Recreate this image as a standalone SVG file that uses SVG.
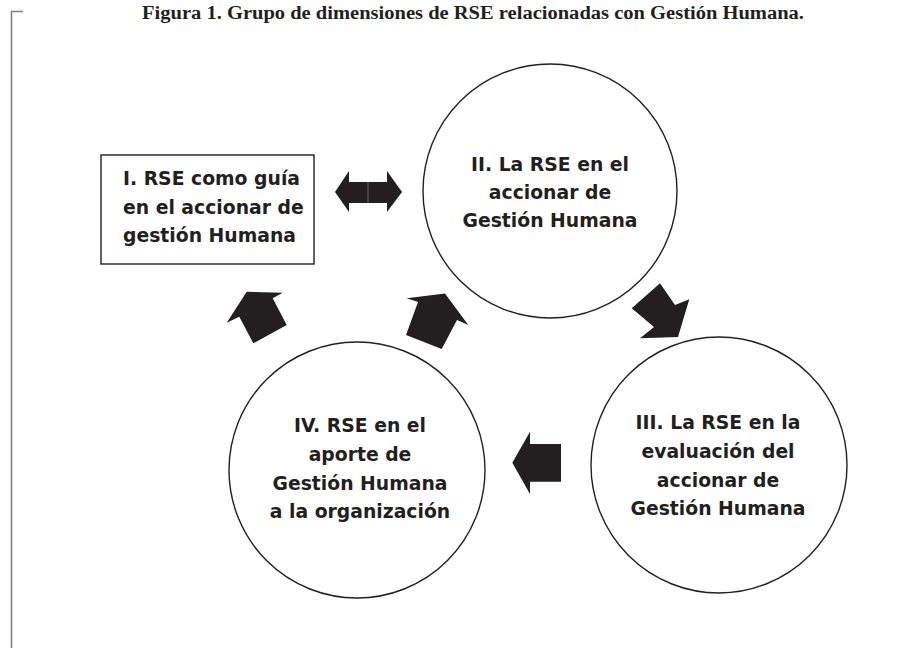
<svg xmlns="http://www.w3.org/2000/svg" width="922" height="648" viewBox="0 0 922 648">
<style>
.t{font-family:"DejaVu Sans","Open Sans",sans-serif;font-weight:700;font-size:18.8px;fill:#231f20}
.c{text-anchor:middle}
.n{fill:#fff;stroke:#231f20;stroke-width:1.4}
.a{fill:#231f20;stroke:none}
.title{font-family:"Liberation Serif","Times New Roman",serif;font-weight:700;font-size:18.5px;fill:#231f20}
</style>
<rect width="922" height="648" fill="#fff"/>
<path d="M23 11.5H11.5V648" fill="none" stroke="#808080" stroke-width="1.5"/>
<text class="title" x="473" y="18.5" text-anchor="middle" textLength="662" lengthAdjust="spacingAndGlyphs">Figura 1. Grupo de dimensiones de RSE relacionadas con Gestión Humana.</text>
<g id="n1">
<rect class="n" x="101" y="155" width="213" height="109"/>
<text class="t" x="123" y="185">I. RSE como guía</text>
<text class="t" x="123" y="213.5">en el accionar de</text>
<text class="t" x="123" y="242">gestión Humana</text>
</g>
<g id="n2">
<circle class="n" cx="550" cy="191" r="127"/>
<text class="t c" x="550" y="171">II. La RSE en el</text>
<text class="t c" x="550" y="199">accionar de</text>
<text class="t c" x="550" y="227">Gestión Humana</text>
</g>
<g id="n3">
<circle class="n" cx="719" cy="465" r="128"/>
<text class="t c" x="718" y="429">III. La RSE en la</text>
<text class="t c" x="718" y="458">evaluación del</text>
<text class="t c" x="718" y="487">accionar de</text>
<text class="t c" x="718" y="515">Gestión Humana</text>
</g>
<g id="n4">
<circle class="n" cx="357" cy="470" r="128"/>
<text class="t c" x="360" y="432">IV. RSE en el</text>
<text class="t c" x="360" y="461">aporte de</text>
<text class="t c" x="360" y="490">Gestión Humana</text>
<text class="t c" x="360" y="518">a la organización</text>
</g>
<g id="connectors">
<polygon class="a" points="335,192 349,171 349,182 368,182 368,203 349,203 349,212"/>
<polygon class="a" points="402,192 387,171 387,182 368,182 368,203 387,203 387,212"/>
<line x1="368" y1="182" x2="368" y2="203" stroke="#777" stroke-width="0.8"/>
<polygon class="a" points="226.7,322.7 246.7,291.7 282.7,292.7 272.7,298.3 286.7,325 253.3,343.3 239.3,316.7"/>
<polygon class="a" points="406.7,298.3 445,293.5 468.3,325 457,320 441.7,349 406,335 418,302"/>
<polygon class="a" points="631.7,308.3 660,283.3 675,305 689.3,299.3 678,337 640,338.3 654,327"/>
<polygon class="a" points="512.3,462.7 530,431.7 530,444 561,444 561,481.7 530,481.7 530,494"/>
</g>
</svg>
